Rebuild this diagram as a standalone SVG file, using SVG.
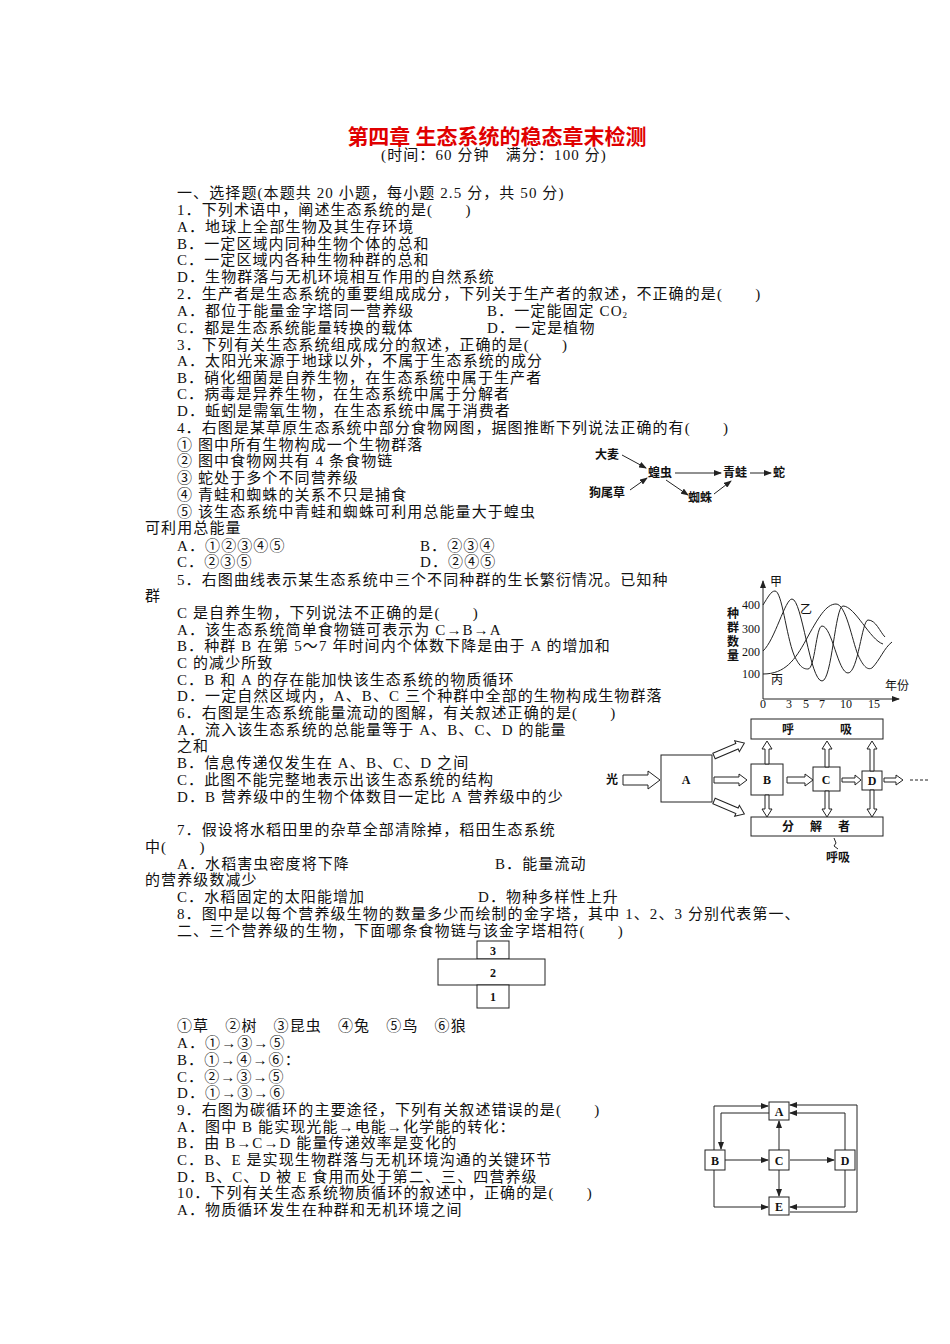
<svg xmlns="http://www.w3.org/2000/svg" width="950" height="1344" viewBox="0 0 950 1344">
<style>
text{font-family:"Liberation Serif","Noto Sans CJK SC",serif;fill:#111}
.t{font-size:15px;letter-spacing:1.1px}
.s{font-size:12px}
.b{font-size:12px;font-weight:bold}
.ln{stroke:#222;stroke-width:1;fill:none}
.bx{stroke:#222;stroke-width:1;fill:#fff}
.ha{stroke:#222;stroke-width:1;fill:#fff}
</style>
<defs>
<marker id="ar" markerWidth="8" markerHeight="6" refX="7" refY="3" orient="auto" markerUnits="userSpaceOnUse"><path d="M0,0 L8,3 L0,6 z" fill="#222"/></marker>
</defs>
<rect width="950" height="1344" fill="#fff"/>
<g id="title">
<text x="497" y="144" text-anchor="middle" style="font-size:21px;font-weight:bold;fill:#e00000">第四章  生态系统的稳态章末检测</text>
<text x="494" y="160" text-anchor="middle" class="t">(时间：60 分钟　满分：100 分)</text>
</g>
<g id="body" class="t">
<text x="177" y="198">一、选择题(本题共 20 小题，每小题 2.5 分，共 50 分)</text>
<text x="177" y="215">1．下列术语中，阐述生态系统的是(　　)</text>
<text x="177" y="232">A．地球上全部生物及其生存环境</text>
<text x="177" y="249">B．一定区域内同种生物个体的总和</text>
<text x="177" y="265">C．一定区域内各种生物种群的总和</text>
<text x="177" y="282">D．生物群落与无机环境相互作用的自然系统</text>
<text x="177" y="299">2．生产者是生态系统的重要组成成分，下列关于生产者的叙述，不正确的是(　　)</text>
<text x="177" y="316">A．都位于能量金字塔同一营养级</text>
<text x="487" y="316">B．一定能固定 CO<tspan font-size="9" dy="2">2</tspan></text>
<text x="177" y="333">C．都是生态系统能量转换的载体</text>
<text x="487" y="333">D．一定是植物</text>
<text x="177" y="350">3．下列有关生态系统组成成分的叙述，正确的是(　　)</text>
<text x="177" y="366">A．太阳光来源于地球以外，不属于生态系统的成分</text>
<text x="177" y="383">B．硝化细菌是自养生物，在生态系统中属于生产者</text>
<text x="177" y="399">C．病毒是异养生物，在生态系统中属于分解者</text>
<text x="177" y="416">D．蚯蚓是需氧生物，在生态系统中属于消费者</text>
<text x="177" y="433">4．右图是某草原生态系统中部分食物网图，据图推断下列说法正确的有(　　)</text>
<text x="177" y="450">① 图中所有生物构成一个生物群落</text>
<text x="177" y="466">② 图中食物网共有 4 条食物链</text>
<text x="177" y="483">③ 蛇处于多个不同营养级</text>
<text x="177" y="500">④ 青蛙和蜘蛛的关系不只是捕食</text>
<text x="177" y="517">⑤ 该生态系统中青蛙和蜘蛛可利用总能量大于蝗虫</text>
<text x="145" y="533">可利用总能量</text>
<text x="177" y="551">A．①②③④⑤</text>
<text x="420" y="551">B．②③④</text>
<text x="177" y="567">C．②③⑤</text>
<text x="420" y="567">D．②④⑤</text>
<text x="177" y="585">5．右图曲线表示某生态系统中三个不同种群的生长繁衍情况。已知种</text>
<text x="145" y="601">群</text>
<text x="177" y="618">C 是自养生物，下列说法不正确的是(　　)</text>
<text x="177" y="635">A．该生态系统简单食物链可表示为 C→B→A</text>
<text x="177" y="651">B．种群 B 在第 5～7 年时间内个体数下降是由于 A 的增加和</text>
<text x="177" y="668">C 的减少所致</text>
<text x="177" y="685">C．B 和 A 的存在能加快该生态系统的物质循环</text>
<text x="177" y="701">D．一定自然区域内，A、B、C 三个种群中全部的生物构成生物群落</text>
<text x="177" y="718">6．右图是生态系统能量流动的图解，有关叙述正确的是(　　)</text>
<text x="177" y="735">A．流入该生态系统的总能量等于 A、B、C、D 的能量</text>
<text x="177" y="751">之和</text>
<text x="177" y="768">B．信息传递仅发生在 A、B、C、D 之间</text>
<text x="177" y="785">C．此图不能完整地表示出该生态系统的结构</text>
<text x="177" y="802">D．B 营养级中的生物个体数目一定比 A 营养级中的少</text>
<text x="177" y="835">7．假设将水稻田里的杂草全部清除掉，稻田生态系统</text>
<text x="145" y="852">中(　　)</text>
<text x="177" y="869">A．水稻害虫密度将下降</text>
<text x="495" y="869">B．能量流动</text>
<text x="145" y="885">的营养级数减少</text>
<text x="177" y="902">C．水稻固定的太阳能增加</text>
<text x="478" y="902">D．物种多样性上升</text>
<text x="177" y="919">8．图中是以每个营养级生物的数量多少而绘制的金字塔，其中 1、2、3 分别代表第一、</text>
<text x="177" y="936">二、三个营养级的生物，下面哪条食物链与该金字塔相符(　　)</text>
<text x="177" y="1031">①草　②树　③昆虫　④兔　⑤鸟　⑥狼</text>
<text x="177" y="1048">A．①→③→⑤</text>
<text x="177" y="1065">B．①→④→⑥：</text>
<text x="177" y="1082">C．②→③→⑤</text>
<text x="177" y="1098">D．①→③→⑥</text>
<text x="177" y="1115">9．右图为碳循环的主要途径，下列有关叙述错误的是(　　)</text>
<text x="177" y="1132">A．图中 B 能实现光能→电能→化学能的转化：</text>
<text x="177" y="1148">B．由 B→C→D 能量传递效率是变化的</text>
<text x="177" y="1165">C．B、E 是实现生物群落与无机环境沟通的关键环节</text>
<text x="177" y="1182">D．B、C、D 被 E 食用而处于第二、三、四营养级</text>
<text x="177" y="1198">10．下列有关生态系统物质循环的叙述中，正确的是(　　)</text>
<text x="177" y="1215">A．物质循环发生在种群和无机环境之间</text>
</g>
<g id="foodweb">
<text x="595" y="459" class="b">大麦</text>
<text x="589" y="497" class="b">狗尾草</text>
<text x="648" y="477" class="b">蝗虫</text>
<text x="723" y="477" class="b">青蛙</text>
<text x="773" y="477" class="b">蛇</text>
<text x="688" y="502" class="b">蜘蛛</text>
<g class="ln" marker-end="url(#ar)">
<line x1="622" y1="455" x2="646" y2="468"/>
<line x1="630" y1="490" x2="647" y2="478"/>
<line x1="675" y1="473" x2="721" y2="473"/>
<line x1="750" y1="473" x2="771" y2="473"/>
<line x1="666" y1="480" x2="688" y2="495"/>
<line x1="714" y1="494" x2="731" y2="481"/>
</g>
</g>
<g id="graph">
<g class="ln">
<line x1="763" y1="699" x2="763" y2="581" marker-end="url(#ar)"/>
<line x1="763" y1="699" x2="899" y2="699" marker-end="url(#ar)"/>
<path d="M763,605 C768,597 771,591 775,591 C782,591 786,635 794,655 C800,668 804,669 808,669 C815,669 816,626 822,626 C832,626 838,673 848,673 C858,673 862,620 868,620 C876,620 880,632 885,637"/>
<path d="M763,651 C775,640 785,599 792,599 C802,599 810,681 822,681 C832,681 835,606 843,606 C855,606 870,640 883,644"/>
<path d="M763,674 C785,674 795,660 806,640 C818,618 826,604 836,604 C846,604 852,640 858,655 C864,668 868,670 872,668 C880,660 884,648 892,642"/>
</g>
<text x="770" y="586" class="s">甲</text>
<text x="800" y="614" class="s">乙</text>
<text x="771" y="684" class="s">丙</text>
<text x="742" y="609" class="s">400</text>
<text x="742" y="633" class="s">300</text>
<text x="742" y="656" class="s">200</text>
<text x="742" y="678" class="s">100</text>
<text x="727" y="618" class="b">种</text>
<text x="727" y="632" class="b">群</text>
<text x="727" y="646" class="b">数</text>
<text x="727" y="660" class="b">量</text>
<text x="885" y="690" class="s">年份</text>
<text x="760" y="708" class="s">0</text>
<text x="786" y="708" class="s">3</text>
<text x="803" y="708" class="s">5</text>
<text x="819" y="708" class="s">7</text>
<text x="840" y="708" class="s">10</text>
<text x="868" y="708" class="s">15</text>
</g>
<g id="energy">
<rect class="bx" x="751" y="719" width="132" height="20"/>
<text x="782" y="734" class="b">呼</text><text x="840" y="734" class="b">吸</text>
<rect class="bx" x="751" y="817" width="132" height="19"/>
<text x="782" y="831" class="b">分</text><text x="810" y="831" class="b">解</text><text x="838" y="831" class="b">者</text>
<rect class="bx" x="661" y="755" width="51" height="47"/>
<text x="686" y="784" class="b" text-anchor="middle">A</text>
<rect class="bx" x="751" y="764" width="32" height="31"/>
<text x="767" y="784" class="b" text-anchor="middle">B</text>
<rect class="bx" x="813" y="767" width="27" height="24"/>
<text x="826" y="784" class="b" text-anchor="middle">C</text>
<rect class="bx" x="862" y="771" width="20" height="19"/>
<text x="872" y="785" class="b" text-anchor="middle">D</text>
<text x="606" y="784" class="b">光</text>
<g class="ha">
<polygon points="623,775 648,775 648,771 660,780 648,789 648,785 623,785"/>
<polygon points="714,777 739,777 739,774 747,780 739,786 739,783 714,783"/>
<polygon points="787,777 805,777 805,774 813,780 805,786 805,783 787,783"/>
<polygon points="842,778 855,778 855,775 861,780 855,785 855,782 842,782"/>
<polygon points="884,778 896,778 896,775 903,780 896,785 896,782 884,782"/>
<polygon points="765,764 765,749 762,749 767,741 772,749 769,749 769,764"/>
<polygon points="765,795 765,809 762,809 767,817 772,809 769,809 769,795"/>
<polygon points="825,767 825,749 822,749 827,741 832,749 829,749 829,767"/>
<polygon points="825,791 825,809 822,809 827,817 832,809 829,809 829,791"/>
<polygon points="870,771 870,749 867,749 872,741 877,749 874,749 874,771"/>
<polygon points="870,790 870,809 867,809 872,817 877,809 874,809 874,790"/>
<polygon points="0,-3 25,-3 25,-6 33,0 25,6 25,3 0,3" transform="translate(714,756) rotate(-23)"/>
<polygon points="0,-3 25,-3 25,-6 33,0 25,6 25,3 0,3" transform="translate(714,801) rotate(23)"/>
</g>
<line x1="910" y1="780" x2="928" y2="780" stroke="#222" stroke-dasharray="3,2"/>
<path class="ln" d="M834,838 L836,843 L834,846 L838,849"/>
<text x="826" y="862" class="b">呼吸</text>
</g>
<g id="pyramid">
<rect class="bx" x="477" y="941" width="32" height="18"/>
<rect class="bx" x="438" y="959" width="107" height="26"/>
<rect class="bx" x="477" y="985" width="32" height="23"/>
<text x="493" y="955" class="b" text-anchor="middle">3</text>
<text x="493" y="977" class="b" text-anchor="middle">2</text>
<text x="493" y="1001" class="b" text-anchor="middle">1</text>
</g>
<g id="connectors" class="ln" marker-end="url(#ar)">
<polyline points="714,1150 714,1106 768,1106"/>
<polyline points="769,1113 721,1113 721,1149"/>
<line x1="779" y1="1150" x2="779" y2="1121"/>
<line x1="779" y1="1170" x2="779" y2="1196"/>
<line x1="725" y1="1160" x2="768" y2="1160"/>
<line x1="790" y1="1160" x2="834" y2="1160"/>
<polyline points="845,1150 845,1113 790,1113"/>
<polyline points="790,1212 857,1212 857,1105 790,1105"/>
<polyline points="845,1170 845,1207 790,1207"/>
<polyline points="714,1170 714,1207 768,1207"/>
</g>
<g id="carbon">
<rect class="bx" x="769" y="1102" width="20" height="18"/>
<text x="779" y="1116" class="b" text-anchor="middle">A</text>
<rect class="bx" x="705" y="1150" width="20" height="20"/>
<text x="715" y="1165" class="b" text-anchor="middle">B</text>
<rect class="bx" x="769" y="1150" width="20" height="20"/>
<text x="779" y="1165" class="b" text-anchor="middle">C</text>
<rect class="bx" x="835" y="1150" width="20" height="20"/>
<text x="845" y="1165" class="b" text-anchor="middle">D</text>
<rect class="bx" x="769" y="1197" width="20" height="18"/>
<text x="779" y="1211" class="b" text-anchor="middle">E</text>
</g>
</svg>
